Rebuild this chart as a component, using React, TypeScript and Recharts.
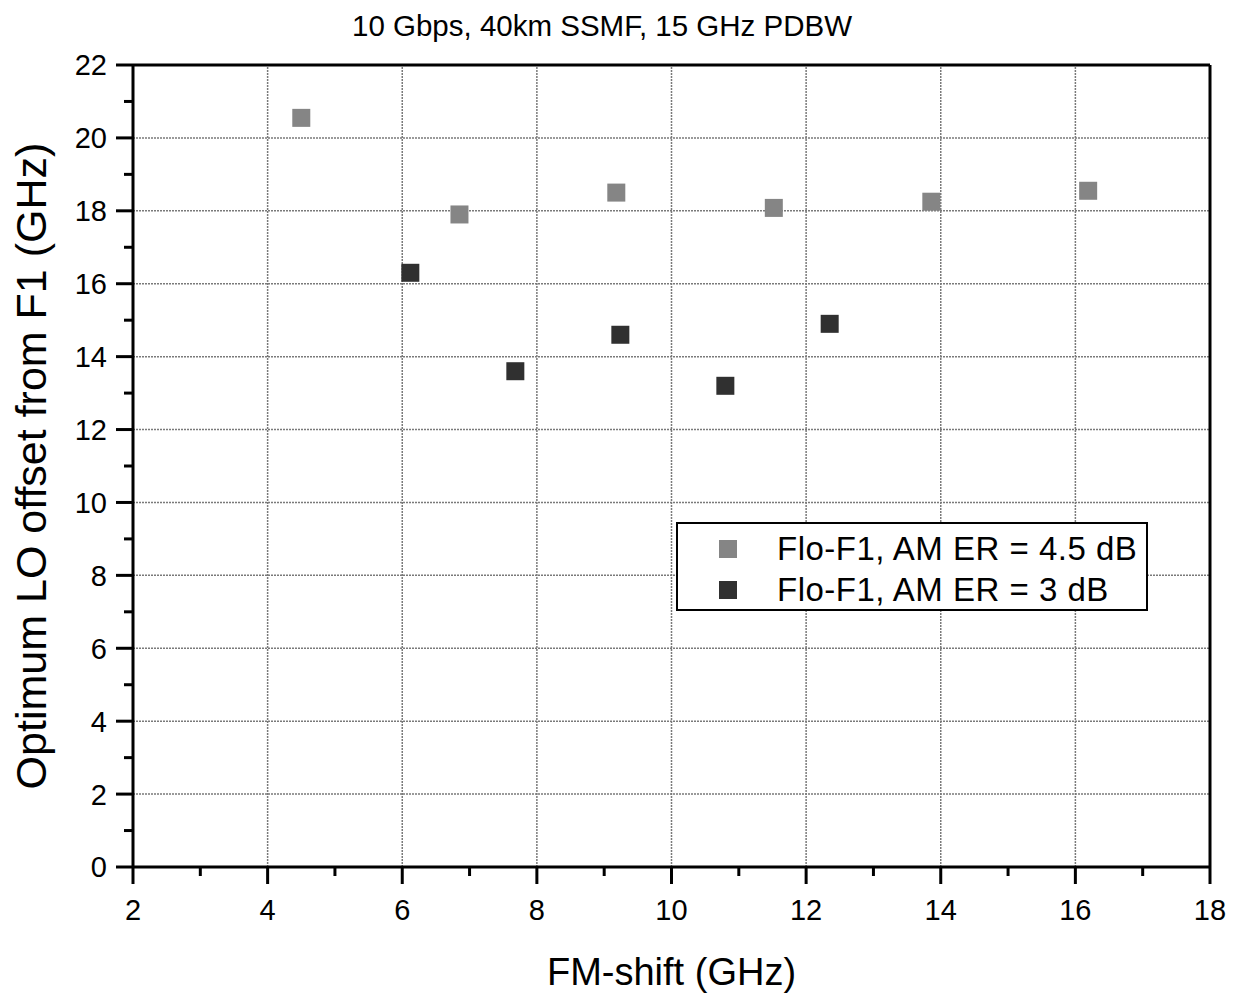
import React from 'react';
import { ScatterChart, Scatter, XAxis, YAxis, ReferenceLine, Legend } from 'recharts';

// FM-shift (GHz) vs optimum LO offset (GHz)
const fmShiftEr45 = [4.5, 6.85, 9.18, 11.52, 13.86, 16.19];
const loOffsetEr45 = [20.55, 17.9, 18.5, 18.08, 18.25, 18.55];
const fmShiftEr3 = [6.12, 7.68, 9.24, 10.8, 12.35];
const loOffsetEr3 = [16.3, 13.6, 14.6, 13.2, 14.9];

const seriesNames = ['Flo-F1, AM ER = 4.5 dB', 'Flo-F1, AM ER = 3 dB'];

const xTicks = [2, 3, 4, 5, 6, 7, 8, 9, 10, 11, 12, 13, 14, 15, 16, 17, 18];
const yTicks = [0, 1, 2, 3, 4, 5, 6, 7, 8, 9, 10, 11, 12, 13, 14, 15, 16, 17, 18, 19, 20, 21, 22];
const xGridLines = [4, 6, 8, 10, 12, 14, 16];
const yGridLines = [2, 4, 6, 8, 10, 12, 14, 16, 18, 20];

const seriesEr45 = fmShiftEr45.map((x, i) => ({ x, y: loOffsetEr45[i] }));
const seriesEr3 = fmShiftEr3.map((x, i) => ({ x, y: loOffsetEr3[i] }));

const FONT = '"Liberation Sans", Arial, Helvetica, sans-serif';
const TICK_FONT = 29;
const MAJOR = 17;
const MINOR = 9;

const isMajor = (v: number) => v % 2 === 0;

const BottomTick = (props: any) => {
  const { x, y, payload } = props;
  const major = isMajor(payload.value);
  return (
    <g>
      <line x1={x} x2={x} y1={y} y2={y + (major ? MAJOR : MINOR)} stroke="#000" strokeWidth={3} />
      {major && (
        <text x={x} y={y + 53} textAnchor="middle" fontSize={TICK_FONT} fontFamily={FONT} fill="#000">
          {payload.value}
        </text>
      )}
    </g>
  );
};

const LeftTick = (props: any) => {
  const { x, y, payload } = props;
  const major = isMajor(payload.value);
  return (
    <g>
      <line x1={x} x2={x - (major ? MAJOR : MINOR)} y1={y} y2={y} stroke="#000" strokeWidth={3} />
      {major && (
        <text x={x - 26} y={y} dy="0.36em" textAnchor="end" fontSize={TICK_FONT} fontFamily={FONT} fill="#000">
          {payload.value}
        </text>
      )}
    </g>
  );
};

const TopTick = (props: any) => {
  const { x, y, payload } = props;
  const major = isMajor(payload.value);
  return <line x1={x} x2={x} y1={y} y2={y + (major ? MAJOR : MINOR)} stroke="#000" strokeWidth={3} />;
};

const RightTick = (props: any) => {
  const { x, y, payload } = props;
  const major = isMajor(payload.value);
  return <line x1={x} x2={x - (major ? MAJOR : MINOR)} y1={y} y2={y} stroke="#000" strokeWidth={3} />;
};

const SquareDot = (props: any) => {
  const { cx, cy, fill } = props;
  return <rect x={cx - 9} y={cy - 9} width={18} height={18} fill={fill} />;
};

const renderLegend = (props: any) => {
  const payload = [...(props.payload || [])].sort(
    (a: any, b: any) => seriesNames.indexOf(a.value) - seriesNames.indexOf(b.value)
  );
  return (
    <div
      style={{
        width: 472,
        height: 89,
        boxSizing: 'border-box',
        border: '2px solid #000',
        background: '#fff',
        position: 'relative',
        fontFamily: FONT,
        fontSize: 33,
        letterSpacing: 0.5,
        color: '#000',
      }}
    >
      {payload.map((entry: any, i: number) => (
        <div
          key={entry.value}
          style={{ position: 'absolute', left: 0, top: 5 + i * 41, height: 40, width: '100%' }}
        >
          <div style={{ position: 'absolute', left: 41, top: 11, width: 18, height: 18, background: entry.color }} />
          <div style={{ position: 'absolute', left: 99, top: 0, lineHeight: '40px', whiteSpace: 'nowrap' }}>
            {entry.value}
          </div>
        </div>
      ))}
    </div>
  );
};

const axisLine = { stroke: '#000', strokeWidth: 3 };
const gridStyle = { stroke: '#7a7a7a', strokeDasharray: '2 1', strokeWidth: 1.5 };

export default function App() {
  return (
    <div style={{ position: 'absolute', left: 0, top: 0, width: 1242, height: 996, background: '#fff' }}>
      <div
        style={{
          position: 'absolute',
          left: 0,
          top: 11,
          width: 1204,
          textAlign: 'center',
          fontFamily: FONT,
          fontSize: 29.5,
          lineHeight: '29px',
          color: '#000',
        }}
      >
        10 Gbps, 40km SSMF, 15 GHz PDBW
      </div>
      <div
        style={{
          position: 'absolute',
          left: 31 - 400,
          top: 466 - 22,
          width: 800,
          height: 44,
          lineHeight: '44px',
          textAlign: 'center',
          fontFamily: FONT,
          fontSize: 43,
          color: '#000',
          transform: 'rotate(-90deg)',
          transformOrigin: '50% 50%',
          whiteSpace: 'nowrap',
        }}
      >
        Optimum LO offset from F1 (GHz)
      </div>
      <ScatterChart width={1242} height={996} margin={{ top: 65, right: 32, bottom: 0, left: 0 }}>
        {xGridLines.map((v) => (
          <ReferenceLine key={`gx-${v}`} x={v} xAxisId="b" yAxisId="l" {...gridStyle} />
        ))}
        {yGridLines.map((v) => (
          <ReferenceLine key={`gy-${v}`} y={v} xAxisId="b" yAxisId="l" {...gridStyle} />
        ))}
        <Scatter
          name={seriesNames[0]}
          data={seriesEr45}
          xAxisId="b"
          yAxisId="l"
          fill="#858585"
          shape={SquareDot}
          isAnimationActive={false}
        />
        <Scatter
          name={seriesNames[1]}
          data={seriesEr3}
          xAxisId="b"
          yAxisId="l"
          fill="#303030"
          shape={SquareDot}
          isAnimationActive={false}
        />
        <XAxis
          xAxisId="b"
          type="number"
          dataKey="x"
          orientation="bottom"
          domain={[2, 18]}
          ticks={xTicks}
          interval={0}
          height={129}
          tickSize={0}
          tickMargin={0}
          tickLine={false}
          axisLine={axisLine}
          tick={BottomTick}
          label={{ value: 'FM-shift (GHz)', position: 'insideBottom', offset: 11, fontSize: 38, fill: '#000', fontFamily: FONT }}
        />
        <XAxis
          xAxisId="t"
          type="number"
          dataKey="x"
          orientation="top"
          mirror
          domain={[2, 18]}
          ticks={xTicks}
          interval={0}
          tickSize={0}
          tickMargin={0}
          tickLine={false}
          axisLine={axisLine}
          tick={TopTick}
        />
        <YAxis
          yAxisId="l"
          type="number"
          dataKey="y"
          orientation="left"
          domain={[0, 22]}
          ticks={yTicks}
          interval={0}
          width={133}
          tickSize={0}
          tickMargin={0}
          tickLine={false}
          axisLine={axisLine}
          tick={LeftTick}
        />
        <YAxis
          yAxisId="r"
          type="number"
          dataKey="y"
          orientation="right"
          mirror
          domain={[0, 22]}
          ticks={yTicks}
          interval={0}
          tickSize={0}
          tickMargin={0}
          tickLine={false}
          axisLine={axisLine}
          tick={RightTick}
        />
        <Legend
          layout="vertical"
          align="center"
          verticalAlign="middle"
          wrapperStyle={{ left: 676, top: 522, width: 472, height: 89 }}
          content={renderLegend}
        />
      </ScatterChart>
    </div>
  );
}
